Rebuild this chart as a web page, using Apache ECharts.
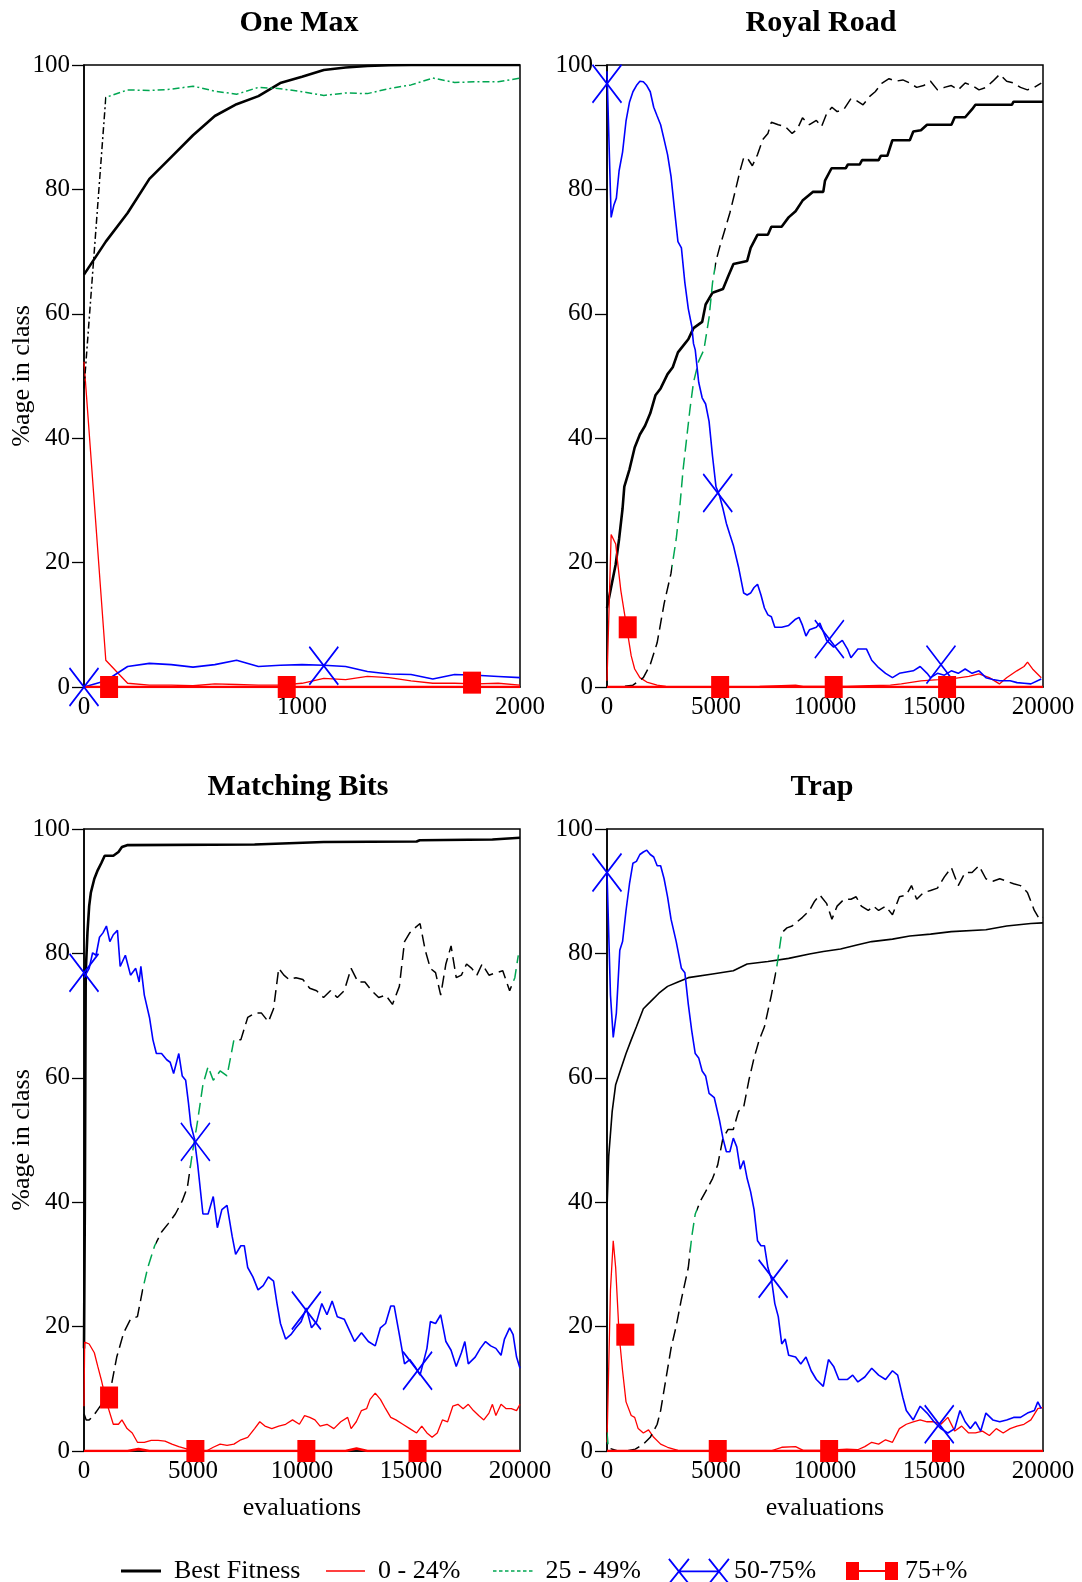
<!DOCTYPE html>
<html><head><meta charset="utf-8">
<script src="https://cdn.jsdelivr.net/npm/echarts/dist/echarts.min.js"></script>
<style>html,body{margin:0;padding:0;background:#fff}#c{width:1082px;height:1582px}</style>
</head><body><div id="c"></div><script>
// ---------------- DATA ----------------
const PANEL_TITLES = ['One Max', 'Royal Road', 'Matching Bits', 'Trap'];
const LEGEND_NAMES = ['Best Fitness', '0 - 24%', '25 - 49%', '50-75%', '75+%'];
const Y_TICKS = [0, 20, 40, 60, 80, 100];
const X_MAX = [2000, 20000, 20000, 20000];
const X_STEP = [1000, 5000, 5000, 5000];

// One Max (sampled every 100 evaluations)
const OM_X = [0,100,200,300,400,500,600,700,800,900,1000,1100,1200,1300,1400,1500,1600,1700,1800,1900,2000];
const OM_BEST = [66.3,71.6,76.2,81.7,85.2,88.7,91.8,93.7,95.0,97.1,98.1,99.2,99.6,99.85,99.95,100,100,100,100,100,100];
const OM_LOW  = [52.3,4.3,0.6,0.3,0.3,0.2,0.5,0.4,0.3,0.3,0.6,1.4,1.2,1.7,1.5,1.0,0.6,0.6,0.5,0.6,0.3];
const OM_MID  = [48,94.8,96,95.9,96.1,96.6,95.8,95.3,96.4,96.2,95.7,95.1,95.5,95.4,96.2,96.8,97.9,97.2,97.3,97.3,97.9];
const OM_HIGH = [0,1,3.3,3.8,3.6,3.2,3.6,4.3,3.3,3.5,3.6,3.5,3.3,2.5,2.1,2.0,1.3,2.0,1.9,1.7,1.5];
const OM_TOP  = [0,0,0,0,0,0,0,0,0,0,0,0,0,0,0,0,0,0,0,0,0];
const OM_XMARK = [[0,0],[1100,3.4]];
const OM_SQMARK = [[115,0],[930,0],[1780,0.7]];
const OM_GREEN = [[100,2000]];

// Royal Road ([evaluations, %])
const RR_BEST = [[0,12.7],[159,15.5],[397,19.7],[555,23.8],[714,28.7],[794,32.2],[1032,35],[1270,38.5],[1508,40.6],[1746,42],[1984,44],[2222,46.9],[2460,48],[2778,50.3],[3016,51.4],[3254,53.8],[3571,55.2],[3730,55.9],[3968,57.7],[4365,58.7],[4524,61.5],[4841,63.4],[5320,64],[5555,66],[5800,68],[6430,68.5],[6590,70.6],[6900,72.7],[7380,72.7],[7540,74],[8010,74],[8330,75.5],[8650,76.5],[8970,78.2],[9440,79.6],[9920,79.6],[10000,81.4],[10300,83.4],[10950,83.4],[11050,84],[11590,84],[11700,84.7],[12460,84.7],[12560,85.4],[12860,85.4],[13090,87.9],[13890,87.9],[14050,89.3],[14400,89.5],[14680,90.4],[15800,90.4],[15950,91.6],[16430,91.6],[16750,92.9],[16900,93.6],[18570,93.6],[18650,94.1],[20000,94.1]];
const RR_LOW = [[0,1],[190,24.5],[400,23],[476,20.4],[635,15.5],[794,12],[952,8.5],[1111,5],[1270,2.9],[1508,1.5],[1825,0.8],[2300,0.3],[2700,0.1],[3500,0],[5000,0],[7000,0.1],[8650,0.3],[9000,0.1],[11000,0.1],[12000,0.2],[13000,0.3],[13500,0.5],[14400,1.0],[15200,1.2],[15950,1.4],[16600,1.7],[17060,2.1],[17540,1.5],[18000,0.5],[18330,1.5],[18800,2.6],[19130,3.3],[19290,4.0],[19520,2.9],[19920,1.5]];
const RR_MID = [[0,0],[555,0],[1190,0.3],[1667,1.5],[1984,3.6],[2300,7.1],[2620,13.4],[2937,18.3],[3175,23.8],[3333,28.7],[3492,35],[3651,39.9],[3810,44.8],[3968,49],[4206,52.4],[4444,54.2],[4682,59.4],[4841,65],[5000,68.5],[5159,70.6],[5397,73.4],[5635,76.2],[5873,79.6],[6111,83.1],[6270,85.1],[6429,85.1],[6667,83.8],[6905,85.6],[7143,88],[7381,89],[7540,90.8],[7857,90.4],[8175,90.1],[8492,89],[8730,89.7],[8968,91.5],[9286,90.4],[9603,91.1],[9841,90.1],[10079,92.2],[10317,93.2],[10556,92.5],[10873,92.9],[11190,94.6],[11428,94.3],[11746,93.6],[12063,95],[12302,95.7],[12619,97.1],[12937,97.8],[13254,97.4],[13571,97.6],[13889,97.1],[14206,96.4],[14524,96.7],[14841,97.4],[15159,96],[15476,96.4],[15794,96.7],[16111,96],[16429,97.1],[16746,96.7],[17063,96],[17381,96.4],[17698,97.4],[18016,98.5],[18333,97.4],[18651,97.1],[18968,96.4],[19286,96],[19603,96.4],[19920,97.1]];
const RR_HIGH = [[0,99],[190,75.5],[317,77.5],[430,78.6],[555,83],[714,86],[873,91],[1030,94],[1190,95.7],[1350,96.7],[1508,97.4],[1667,97.3],[1825,96.7],[1984,95.7],[2143,93.2],[2300,91.8],[2460,90.4],[2620,88],[2778,85.6],[2937,82.1],[3095,76.8],[3254,71.6],[3413,70.6],[3571,65],[3730,60.8],[3889,58],[3968,55.2],[4048,54.2],[4127,54.5],[4206,49],[4365,46.5],[4524,45.5],[4682,42.7],[4841,37.1],[5000,32.2],[5159,30.8],[5317,28.7],[5476,26.3],[5635,24.5],[5794,22.8],[6032,19.3],[6270,15.1],[6429,14.8],[6587,15.1],[6746,16],[6905,16.5],[7063,14.8],[7222,12.7],[7381,11.6],[7540,11.3],[7698,9.6],[8016,9.6],[8333,9.9],[8651,10.9],[8810,11.2],[8968,9.9],[9127,8.2],[9286,9.2],[9603,9.6],[9762,10.3],[10079,7.5],[10397,6.4],[10794,7.5],[11032,6.1],[11190,4.7],[11508,6.1],[11905,6.1],[12143,4.3],[12460,3.1],[12778,2.2],[13095,1.5],[13413,2.2],[13730,2.4],[14048,2.6],[14365,3.3],[14683,2.2],[14841,1.5],[15159,2.2],[15476,1.9],[15794,2.6],[16111,2.2],[16429,2.9],[16746,2.2],[17063,2.6],[17381,1.5],[17698,1.2],[18016,1.0],[18492,1.0],[18810,0.7],[19127,0.6],[19444,0.5],[19920,1.3]];
const RR_TOP = [[0,0],[20000,0]];
const RR_XMARK = [[0,97],[5080,31.2],[10200,7.7],[15320,3.6]];
const RR_SQMARK = [[950,9.6],[5190,0],[10400,0],[15600,0]];
const RR_GREEN = [[3000,4950]];

// Matching Bits
const MB_BEST = [[0,16.5],[40,40],[79,76.9],[158,83.3],[237,87.6],[316,89.8],[474,92],[632,93.4],[790,94.5],[949,95.7],[1344,95.7],[1581,96.3],[1740,97.1],[1976,97.4],[7826,97.5],[7900,97.7],[10988,97.9],[15256,98.0],[15400,98.2],[18735,98.3],[18800,98.6],[20000,98.6]];
const MB_LOW = [[0,7.2],[30,17.5],[237,17.2],[474,15.8],[632,13.6],[790,11.5],[1028,7.9],[1344,4.3],[1581,4.3],[1740,5],[1976,3.6],[2213,2.9],[2451,1.4],[2767,1.4],[3083,1.7],[3399,1.7],[3716,1.6],[4032,1.1],[4348,0.7],[4664,0.4],[4980,0.1],[5296,0],[5613,0],[5929,0.6],[6245,1.1],[6561,0.9],[6877,1.1],[7194,1.8],[7510,2.2],[7826,3.6],[8063,4.7],[8300,4],[8616,3.6],[8933,4],[9249,4.3],[9565,5],[9881,4.3],[10118,5.7],[10356,5.4],[10593,5],[10830,4],[11146,4.3],[11462,3.6],[11778,4.7],[12095,5.4],[12253,3.6],[12490,4.7],[12727,6.5],[12964,6.8],[13122,8.3],[13359,9.3],[13597,8.3],[13834,6.8],[14071,5.4],[14308,5],[14624,4.3],[14941,3.6],[15257,2.9],[15494,4],[15731,2.9],[15968,2.2],[16205,2.9],[16442,5],[16680,4.7],[16917,7.2],[17154,7.5],[17391,6.8],[17628,7.5],[17865,6.5],[18103,5.7],[18340,5],[18577,6.1],[18735,7.5],[18893,5.7],[19130,7.5],[19367,6.8],[19604,6.8],[19842,6.5],[20000,7.5]];
const MB_MID = [[0,6],[100,5],[237,5],[400,5.5],[600,6.5],[800,7.5],[1000,8.5],[1186,9.3],[1502,15.1],[1818,19],[2134,21.2],[2451,21.6],[2688,25.9],[2925,29.5],[3241,33],[3557,35.2],[3874,36.6],[4190,38.1],[4506,40.2],[4743,42.4],[4980,48.1],[5217,53.2],[5455,58.9],[5692,61.8],[5929,59.6],[6245,61.1],[6561,60.3],[6877,66.1],[7194,66.1],[7510,69.7],[7826,70.4],[8142,70.4],[8458,69],[8695,71.1],[8933,77.6],[9170,76.5],[9407,75.8],[9723,76.1],[10039,75.8],[10356,74.4],[10672,74],[10988,72.9],[11304,74],[11620,72.9],[11937,74],[12253,77.6],[12569,75.4],[12885,75.4],[13201,74],[13518,72.9],[13834,73.3],[14150,71.8],[14466,74.7],[14703,81.9],[14941,83.3],[15178,84.1],[15415,84.8],[15652,80.5],[15889,77.6],[16126,76.9],[16363,73.3],[16600,78.3],[16838,81.2],[17075,76.1],[17312,76.5],[17549,78.3],[17786,77.6],[18023,76.5],[18261,78.3],[18577,76.5],[18893,76.9],[19209,77.2],[19525,74],[19763,76.1],[19921,79.7]];
const MB_HIGH = [[0,76.1],[237,77.6],[395,80.1],[553,79.7],[711,82.6],[870,83.3],[1028,84.4],[1186,81.9],[1344,83],[1534,83.7],[1660,77.9],[1897,79.7],[2134,76.5],[2372,77.6],[2530,75.4],[2609,77.9],[2767,73.3],[3004,69.7],[3162,66.1],[3320,63.9],[3557,63.9],[3794,62.9],[3953,62.5],[4111,60.7],[4348,63.9],[4506,60.3],[4664,59.6],[4790,56],[4901,52.4],[5059,50.3],[5217,46],[5455,38.1],[5692,38.1],[5929,40.9],[6118,35.9],[6324,38.8],[6561,39.5],[6798,34.5],[6956,31.6],[7194,33],[7352,33],[7510,29.5],[7747,28],[7984,25.9],[8221,26.6],[8458,28],[8695,27.3],[8854,23.7],[9012,20.5],[9249,18],[9486,18.7],[9723,19.8],[9960,20.8],[10197,23],[10435,19.8],[10672,20.8],[10909,23.7],[11146,21.9],[11383,24.1],[11620,21.6],[11937,21.2],[12174,19.4],[12411,17.6],[12727,19],[13043,17.6],[13359,16.9],[13597,19.8],[13834,20.5],[14071,23.3],[14229,23.3],[14466,18.7],[14703,14],[14941,14.7],[15178,13.6],[15415,12.2],[15731,16.5],[15889,20.8],[16126,20.5],[16363,21.9],[16600,17.6],[16838,16.2],[17075,13.6],[17312,15.8],[17470,17.6],[17628,14],[17944,15.1],[18181,16.5],[18419,17.6],[18656,16.9],[18893,16.5],[19130,15.4],[19288,18],[19525,19.8],[19684,18.7],[19842,15.1],[20000,13.3]];
const MB_TOP = [[0,0],[2000,0],[2500,0.3],[3000,0],[12000,0],[12500,0.4],[13000,0],[20000,0]];
const MB_XMARK = [[0,76.9],[5110,49.7],[10200,22.6],[15300,12.9]];
const MB_SQMARK = [[1150,8.6],[5110,0],[10200,0],[15300,0]];
const MB_GREEN = [[2700,3300],[4850,7000],[19700,20000]];

// Trap
const TR_BEST = [[0,38.8],[79,47.4],[238,54.6],[397,58.9],[635,61.4],[873,63.9],[1111,66.1],[1349,68.2],[1667,71.1],[1984,72.2],[2381,73.6],[2778,74.7],[3254,75.4],[3730,76.1],[4841,76.7],[5794,77.2],[6429,78.3],[7381,78.7],[8333,79.2],[9286,79.9],[9921,80.3],[10714,80.7],[11508,81.4],[12143,81.9],[13095,82.3],[13889,82.8],[14841,83.1],[15794,83.5],[17381,83.8],[18333,84.4],[19444,84.8],[20000,84.9]];
const TR_LOW = [[0,1.4],[159,25.9],[286,33.8],[397,29.5],[556,18.7],[714,12.9],[873,7.9],[1111,5.7],[1270,5.4],[1429,3.6],[1667,2.9],[1905,3.4],[2143,2.2],[2460,1.1],[2778,0.6],[3254,0.1],[3600,0],[7500,0],[8016,0.6],[8651,0.7],[9000,0.1],[10000,0.1],[11000,0.3],[11500,0.2],[11825,0.7],[12143,1.4],[12460,1.1],[12778,1.8],[13095,1.4],[13413,3.6],[13730,4.3],[14048,4.7],[14365,5],[14683,4.7],[15000,4.7],[15317,4.3],[15635,5.4],[15952,3.2],[16270,4],[16587,2.9],[16905,2.9],[17222,3.2],[17540,2.5],[17857,3.6],[18175,2.9],[18492,3.6],[18810,4],[19127,4.3],[19444,5],[19762,6.8],[20000,7]];
const TR_MID = [[0,3],[60,0.5],[500,0],[1000,0.1],[1300,0.3],[1667,1.1],[1984,2.2],[2302,4.3],[2460,6.5],[2698,11.5],[2937,16.5],[3175,20.1],[3413,24.4],[3730,29.5],[3889,34.5],[4048,38.1],[4286,40.2],[4524,41.7],[4841,43.8],[5079,46],[5317,50.3],[5556,51.7],[5794,51.7],[6032,54.6],[6270,55.3],[6508,59.6],[6746,63.2],[6984,66.1],[7222,68.2],[7540,73.3],[7778,77.6],[8016,83.3],[8254,84.1],[8492,84.4],[8730,85.1],[8968,85.8],[9286,86.9],[9524,88.4],[9762,89.4],[10079,88],[10317,85.5],[10556,87.6],[10873,88.7],[11190,88.7],[11428,89.1],[11667,87.6],[11984,86.9],[12222,87.6],[12460,86.9],[12778,87.6],[13095,86.2],[13413,89.1],[13730,89.4],[13968,90.9],[14206,88.7],[14524,89.8],[14841,90.1],[15159,90.5],[15476,92.3],[15794,93.8],[16111,90.9],[16429,93],[16746,93],[17063,94.1],[17381,92],[17698,91.6],[18016,92],[18333,91.6],[18651,91.2],[18968,90.9],[19286,89.8],[19603,86.9],[19841,85.5],[20000,85.8]];
const TR_HIGH = [[0,93],[159,73.3],[286,66.5],[429,70.4],[587,80.5],[714,81.9],[873,86.9],[1032,91.2],[1190,94.5],[1349,94.8],[1508,95.9],[1667,96.3],[1825,96.6],[1984,95.9],[2143,95.5],[2302,94.1],[2460,94.1],[2619,92],[2778,89.1],[2937,85.5],[3175,81.9],[3413,77.6],[3571,76.9],[3730,71.8],[3889,67.5],[4048,63.9],[4206,63.2],[4365,61.1],[4524,60.3],[4683,57.5],[4921,56.8],[5159,53.2],[5317,50.3],[5476,48.1],[5635,48.1],[5794,50.3],[5952,48.9],[6111,45.3],[6270,46.7],[6429,43.8],[6587,41.7],[6746,38.8],[6905,33.8],[7063,33],[7222,33],[7381,29.5],[7540,27.7],[7698,23.7],[7857,21.6],[8016,17.2],[8175,18],[8333,15.4],[8651,15.1],[8889,14],[9127,15.1],[9365,12.9],[9603,11.5],[9921,10.4],[10159,14.7],[10397,13.6],[10635,11.5],[11032,11.5],[11270,12.2],[11508,11.1],[11825,11.9],[12143,13.3],[12460,12.2],[12778,11.5],[13095,12.9],[13333,12.2],[13571,8.6],[13730,6.5],[14048,5],[14365,7.2],[14683,6.1],[15000,4.7],[15317,3.6],[15635,2.9],[15952,3.6],[16190,6.5],[16429,4.7],[16667,3.6],[16905,4.7],[17143,3.2],[17381,6.1],[17698,5],[18016,4.7],[18333,5],[18651,5.4],[18968,5.4],[19286,6.1],[19603,6.5],[19762,7.9],[19920,6.8]];
const TR_TOP = [[0,0],[20000,0]];
const TR_XMARK = [[0,93],[7620,27.7],[15240,4.3]];
const TR_SQMARK = [[840,18.7],[5080,0],[10190,0],[15320,0]];
const TR_GREEN = [[0,100],[3800,4150],[7750,8050]];

// ---------------- BUILD ----------------
const FONT = '"Liberation Serif", "Times New Roman", serif';
const BLACK = '#000000', RED = '#ff0000', BLUE = '#0000ff', GREEN = '#00a651';
const pairs = (xs, ys) => xs.map((x, i) => [x, ys[i]]);

const PANELS = [
  {best: pairs(OM_X, OM_BEST), low: pairs(OM_X, OM_LOW), mid: pairs(OM_X, OM_MID), high: pairs(OM_X, OM_HIGH), top: pairs(OM_X, OM_TOP), xm: OM_XMARK, sq: OM_SQMARK, green: OM_GREEN, bw: 2.6, dash: [7, 3, 2, 3]},
  {best: RR_BEST, low: RR_LOW, mid: RR_MID, high: RR_HIGH, top: RR_TOP, xm: RR_XMARK, sq: RR_SQMARK, green: RR_GREEN, bw: 2.6, dash: [12, 6]},
  {best: MB_BEST, low: MB_LOW, mid: MB_MID, high: MB_HIGH, top: MB_TOP, xm: MB_XMARK, sq: MB_SQMARK, green: MB_GREEN, bw: 2.6, dash: [12, 6]},
  {best: TR_BEST, low: TR_LOW, mid: TR_MID, high: TR_HIGH, top: TR_TOP, xm: TR_XMARK, sq: TR_SQMARK, green: TR_GREEN, bw: 1.6, dash: [12, 6]}
];

const GRIDS = [
  {left: 84, top: 65, width: 436, height: 622},
  {left: 607, top: 65, width: 436, height: 622},
  {left: 84, top: 829, width: 436, height: 622},
  {left: 607, top: 829, width: 436, height: 622}
];

const grid = GRIDS.map(g => Object.assign({show: true, borderColor: BLACK, borderWidth: 1.5, backgroundColor: 'transparent', containLabel: false, outerBoundsMode: 'none'}, g));

const plain = v => String(v);

const xAxis = GRIDS.map((g, i) => ({
  type: 'value', gridIndex: i, min: 0, max: X_MAX[i], interval: X_STEP[i],
  name: i >= 2 ? 'evaluations' : '', nameLocation: 'middle', nameGap: 44, nameMoveOverlap: false,
  nameTextStyle: {fontFamily: FONT, fontSize: 26, color: BLACK},
  axisLine: {show: true, onZero: false, lineStyle: {color: BLACK, width: 1.5}},
  axisTick: {show: false},
  axisLabel: {fontFamily: FONT, fontSize: 25, color: BLACK, margin: 8, showMinLabel: true, showMaxLabel: true, formatter: plain},
  splitLine: {show: false}
}));

const yAxis = GRIDS.map((g, i) => ({
  type: 'value', gridIndex: i, min: Y_TICKS[0], max: Y_TICKS[Y_TICKS.length - 1], interval: Y_TICKS[1] - Y_TICKS[0],
  name: (i % 2 === 0) ? '%age in class' : '', nameLocation: 'middle', nameGap: 49, nameMoveOverlap: false,
  nameTextStyle: {fontFamily: FONT, fontSize: 26, color: BLACK},
  axisLine: {show: true, onZero: false, lineStyle: {color: BLACK, width: 1.5}},
  axisTick: {show: true, inside: false, length: 12, lineStyle: {color: BLACK, width: 1.3}},
  axisLabel: {fontFamily: FONT, fontSize: 25, color: BLACK, margin: 14, showMinLabel: true, showMaxLabel: true, formatter: plain},
  splitLine: {show: false}
}));

const X_PATH = 'path://M0 0L29 38M29 0L0 38';
const series = [];
const visualMap = [];
PANELS.forEach((p, i) => {
  const common = {type: 'line', xAxisIndex: i, yAxisIndex: i, symbol: 'none', showSymbol: false, silent: true, animation: false};
  series.push(Object.assign({}, common, {name: LEGEND_NAMES[0], data: p.best, lineStyle: {color: BLACK, width: p.bw}, itemStyle: {color: BLACK}, z: 3}));
  series.push(Object.assign({}, common, {name: LEGEND_NAMES[1], data: p.low, lineStyle: {color: RED, width: 1.3}, itemStyle: {color: RED}, z: 3}));
  const midIndex = series.length;
  // colour comes from the visualMap gradient (green / black pieces)
  series.push(Object.assign({}, common, {name: LEGEND_NAMES[2], data: p.mid, lineStyle: {width: 1.5, type: p.dash}, itemStyle: {color: BLACK}, z: 3}));
  series.push(Object.assign({}, common, {name: LEGEND_NAMES[3], data: p.high, lineStyle: {color: BLUE, width: 1.6}, itemStyle: {color: BLUE}, z: 3}));
  series.push(Object.assign({}, common, {name: LEGEND_NAMES[4], data: p.top, lineStyle: {color: RED, width: 2.6}, itemStyle: {color: RED}, z: 4}));
  series.push({type: 'scatter', name: LEGEND_NAMES[3], xAxisIndex: i, yAxisIndex: i, data: p.xm, symbol: X_PATH, symbolSize: [29, 38], symbolKeepAspect: false,
    itemStyle: {color: 'rgba(0,0,0,0)', borderColor: BLUE, borderWidth: 1.8, opacity: 1}, clip: false, silent: true, z: 6, animation: false});
  series.push({type: 'scatter', name: LEGEND_NAMES[4], xAxisIndex: i, yAxisIndex: i, data: p.sq, symbol: 'rect', symbolSize: [18, 22],
    itemStyle: {color: RED, borderWidth: 0, opacity: 1}, clip: false, silent: true, z: 6, animation: false});
  const pieces = [];
  let cur = -1e9;
  p.green.forEach(([a, b]) => {
    if (a > cur) pieces.push({gte: cur, lt: a, color: BLACK});
    pieces.push({gte: a, lt: b, color: GREEN});
    cur = b;
  });
  pieces.push({gte: cur, lte: 1e9, color: BLACK});
  visualMap.push({type: 'piecewise', show: false, seriesIndex: midIndex, dimension: 0, pieces: pieces});
});

// titles centred over panels
const TITLE_POS = [[299, 23], [821, 23], [298, 787], [822, 787]];
const cv = document.createElement('canvas').getContext('2d');
cv.font = 'bold 30px "Liberation Serif"';
const title = PANEL_TITLES.map((t, i) => {
  const w = cv.measureText(t).width;
  return {text: t, left: TITLE_POS[i][0] - w / 2, top: TITLE_POS[i][1] - 15, padding: 0,
    textStyle: {fontFamily: FONT, fontWeight: 'bold', fontSize: 30, color: BLACK}};
});

// legend: one component per item for exact placement
const LEG_TEXT = {fontFamily: FONT, fontSize: 26, color: BLACK};
const DOTS = 'path://M0 0h3.5v1.6h-3.5zM6 0h3.5v1.6h-3.5zM12 0h3.5v1.6h-3.5zM18 0h3.5v1.6h-3.5zM24 0h3.5v1.6h-3.5zM30 0h3.5v1.6h-3.5zM36 0h3.5v1.6h-3.5z';
const legendSpec = [
  {name: LEGEND_NAMES[0], left: 121, w: 40, h: 3, icon: 'path://M0 0H40V3H0Z', style: {color: BLACK, borderWidth: 0}, pad: 8},
  {name: LEGEND_NAMES[1], left: 326, w: 39, h: 1.6, icon: 'path://M0 0H39V1.6H0Z', style: {color: RED, borderWidth: 0}, pad: 8},
  {name: LEGEND_NAMES[2], left: 493, w: 39.5, h: 1.6, icon: DOTS, style: {color: GREEN, borderWidth: 0}, pad: 8},
  {name: LEGEND_NAMES[3], left: 668, w: 60, h: 25, icon: 'path://M0 0L20 25M20 0L0 25M10 12.5L50 12.5M40 0L60 25M60 0L40 25', style: {color: 'rgba(0,0,0,0)', borderColor: BLUE, borderWidth: 1.8}, pad: 0},
  {name: LEGEND_NAMES[4], left: 846, w: 52, h: 18, icon: 'path://M0 0H13V18H0ZM13 8H39V10H13ZM39 0H52V18H39Z', style: {color: RED, borderWidth: 0}, pad: 2}
];
const legend = legendSpec.map(s => ({
  left: s.left, top: 1558, padding: 0, itemWidth: s.w, itemHeight: s.h, symbolKeepAspect: false,
  selectedMode: false,
  data: [{name: s.name, icon: s.icon, itemStyle: s.style, textStyle: Object.assign({padding: [0, 0, 0, s.pad]}, LEG_TEXT)}],
  textStyle: Object.assign({padding: [0, 0, 0, s.pad]}, LEG_TEXT)
}));

const chart = echarts.init(document.getElementById('c'), null, {renderer: 'canvas'});
chart.setOption({
  animation: false,
  backgroundColor: '#ffffff',
  textStyle: {fontFamily: FONT},
  title: title,
  legend: legend,
  grid: grid,
  xAxis: xAxis,
  yAxis: yAxis,
  visualMap: visualMap,
  series: series
});
</script></body></html>
